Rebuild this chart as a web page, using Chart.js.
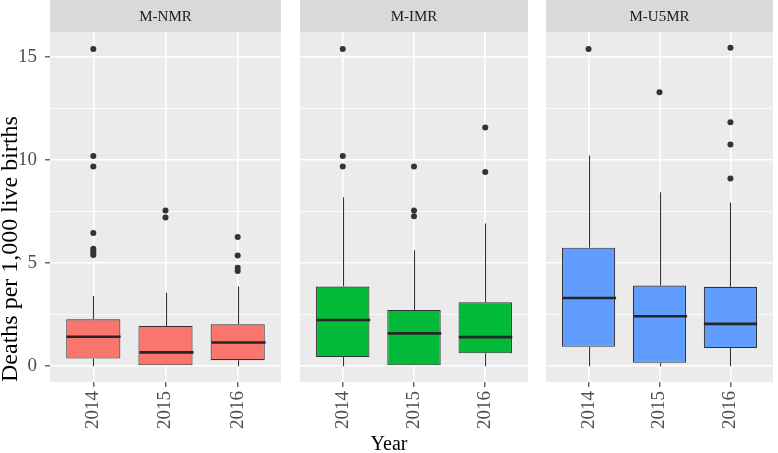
<!DOCTYPE html>
<html>
<head>
<meta charset="utf-8">
<script src="https://cdn.jsdelivr.net/npm/chart.js@4.4.0/dist/chart.umd.min.js"></script>
<style>
  body { margin: 0; background: #ffffff; }
  #wrap { position: relative; width: 778px; height: 453px; }
  #wrap canvas { position: absolute; top: 0; }
  #xTitle {
    position: absolute; top: 433px; left: 289px; width: 200px;
    text-align: center; font: 20px/20px "Liberation Serif", serif; color: #000;
  }
</style>
</head>
<body>
<div id="wrap">
  <canvas id="p1" width="285" height="453" style="left:0px"></canvas>
  <canvas id="p2" width="236" height="453" style="left:296px"></canvas>
  <canvas id="p3" width="235" height="453" style="left:542px"></canvas>
  <div id="xTitle">Year</div>
</div>
<script>
// categories and facets
const years = ['2014', '2015', '2016'];
const facets = ['M-NMR', 'M-IMR', 'M-U5MR'];
const yTitle = 'Deaths per 1,000 live births';

// box stats per year: [lower whisker, Q1, median, Q3, upper whisker]
const nmrBox = [[0, 0.37, 1.43, 2.27, 3.41], [0, 0, 0.67, 1.95, 3.57], [0, 0.29, 1.15, 2.03, 3.86]];
const imrBox = [[0, 0.44, 2.24, 3.86, 8.2], [0, 0, 1.59, 2.73, 5.62], [0, 0.62, 1.41, 3.1, 6.92]];
const u5mrBox = [[0, 0.94, 3.31, 5.75, 10.23], [0, 0.16, 2.42, 3.91, 8.44], [0, 0.88, 2.05, 3.85, 7.94]];

// outliers per year
const nmrOut = [[15.39, 10.2, 9.69, 6.46, 5.7, 5.6, 5.5, 5.4], [7.55, 7.22], [6.27, 5.37, 4.78, 4.62]];
const imrOut = [[15.39, 10.2, 9.69], [9.69, 7.55, 7.27], [11.59, 9.43]];
const u5mrOut = [[15.39], [13.3], [15.46, 11.84, 10.76, 9.11]];

// y range (ggplot style 5% expansion)
const yMin = -0.77;
const yMax = 16.22;

const fills = ['#F8766D', '#00BA38', '#619CFF'];
const serif = '"Liberation Serif", "Times New Roman", serif';

// background panel, strip and whisker/median drawing
const boxPlugin = {
  id: 'boxPanel',
  beforeDraw(chart, args, opts) {
    const { ctx, chartArea: a } = chart;
    ctx.save();
    ctx.fillStyle = '#EBEBEB';
    ctx.fillRect(a.left, a.top, a.right - a.left, a.bottom - a.top);
    ctx.fillStyle = '#D9D9D9';
    ctx.fillRect(a.left, 0, a.right - a.left, a.top);
    ctx.fillStyle = '#1A1A1A';
    ctx.font = '15px ' + serif;
    ctx.textAlign = 'center';
    ctx.textBaseline = 'middle';
    ctx.fillText(opts.label, (a.left + a.right) / 2, a.top / 2 + 1);
    ctx.restore();
  },
  afterDatasetsDraw(chart, args, opts) {
    const { ctx } = chart;
    const xs = chart.scales.x, ys = chart.scales.y;
    const meta = chart.getDatasetMeta(0);
    ctx.save();
    ctx.strokeStyle = '#333333';
    opts.stats.forEach((s, i) => {
      const cx = Math.round(xs.getPixelForValue(i + 1)) + 0.5;
      const half = meta.data[i].width / 2;
      ctx.lineWidth = 1.1;
      ctx.beginPath();
      ctx.moveTo(cx, ys.getPixelForValue(s[3]));
      ctx.lineTo(cx, ys.getPixelForValue(s[4]));
      ctx.moveTo(cx, ys.getPixelForValue(s[0]));
      ctx.lineTo(cx, ys.getPixelForValue(s[1]));
      ctx.stroke();
      ctx.lineWidth = 2.6;
      ctx.strokeStyle = '#262626';
      ctx.beginPath();
      ctx.moveTo(cx - half, ys.getPixelForValue(s[2]));
      ctx.lineTo(cx + half, ys.getPixelForValue(s[2]));
      ctx.stroke();
      ctx.strokeStyle = '#333333';
    });
    ctx.restore();
  }
};

function makePanel(id, label, stats, outliers, fill, showY) {
  const boxes = stats.map((s, i) => ({ x: i + 1, y: [s[1], s[3]] }));
  const points = outliers.flatMap((list, i) => list.map(v => ({ x: i + 1, y: v })));
  const isMajor = c => c.tick && Math.abs(c.tick.value % 5) < 1e-9;

  return new Chart(document.getElementById(id), {
    type: 'bar',
    data: {
      datasets: [
        {
          type: 'bar',
          data: boxes,
          backgroundColor: fill,
          borderColor: '#333333',
          borderWidth: 1.1,
          borderSkipped: false,
          categoryPercentage: 1,
          barPercentage: 0.75,
          order: 2
        },
        {
          type: 'scatter',
          data: points,
          pointRadius: 3,
          pointBorderWidth: 0,
          pointBackgroundColor: '#333333',
          order: 1
        }
      ]
    },
    options: {
      responsive: false,
      animation: false,
      events: [],
      layout: { padding: { top: 32, left: 0, right: 0, bottom: 0 } },
      plugins: {
        legend: { display: false },
        tooltip: { enabled: false },
        boxPanel: { label: label, stats: stats }
      },
      scales: {
        x: {
          type: 'linear',
          min: 0.4,
          max: 3.6,
          offset: false,
          border: { display: false },
          grid: { offset: false, color: '#FFFFFF', lineWidth: 1.6, tickColor: '#333333', tickLength: 5, tickWidth: 1.1 },
          ticks: {
            stepSize: 1, includeBounds: false, autoSkip: false,
            minRotation: 90, maxRotation: 90, padding: 4,
            color: '#4D4D4D', font: { family: serif, size: 19 },
            callback: v => years[v - 1]
          },
          afterFit: s => { s.height = 71; }
        },
        y: {
          min: yMin,
          max: yMax,
          border: { display: false },
          grid: {
            color: '#FFFFFF',
            lineWidth: c => isMajor(c) ? 1.6 : 0.8,
            drawTicks: showY,
            tickLength: showY ? 5 : 0,
            tickWidth: 1.1,
            tickColor: c => isMajor(c) ? '#333333' : 'rgba(0,0,0,0)'
          },
          ticks: {
            display: showY, stepSize: 2.5, includeBounds: false, autoSkip: false, padding: 8,
            color: '#4D4D4D', font: { family: serif, size: 19 },
            callback: v => Math.abs(v % 5) < 1e-9 ? v : ''
          },
          title: {
            display: showY, text: yTitle, color: '#000000', align: 'start',
            font: { family: serif, size: 24, lineHeight: 0.9 },
            padding: { top: 0, bottom: 0 }
          },
          afterFit: s => { s.width = showY ? 50 : 0; }
        }
      }
    },
    plugins: [boxPlugin]
  });
}

makePanel('p1', facets[0], nmrBox, nmrOut, fills[0], true);
makePanel('p2', facets[1], imrBox, imrOut, fills[1], false);
makePanel('p3', facets[2], u5mrBox, u5mrOut, fills[2], false);
</script>
</body>
</html>
